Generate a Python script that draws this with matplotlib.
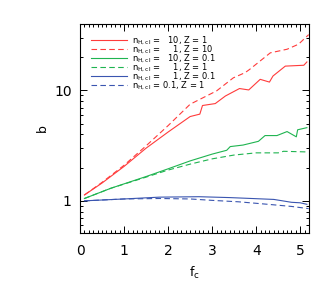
import matplotlib
matplotlib.use('Agg')
import matplotlib.pyplot as plt
from matplotlib.ticker import MultipleLocator, FixedLocator, NullFormatter

# red solid: n=10, Z=1
red_solid_x = [0.1, 0.5, 1.0, 1.5, 2.0, 2.5, 2.72, 2.78, 3.07, 3.3, 3.62, 3.83, 4.09, 4.3, 4.38, 4.66, 5.08, 5.15]
red_solid_y = [1.13, 1.45, 2.05, 3.0, 4.2, 5.8, 6.1, 7.3, 7.6, 8.9, 10.4, 10.1, 12.6, 11.9, 13.5, 16.6, 16.9, 18.1]

# red dashed: n=1, Z=10
red_dash_x = [0.1, 0.5, 1.0, 1.5, 2.0, 2.5, 3.1, 3.48, 3.75, 3.85, 4.32, 4.7, 4.96, 5.19]
red_dash_y = [1.13, 1.47, 2.1, 3.15, 4.8, 7.5, 9.9, 13.0, 14.5, 15.5, 21.9, 23.6, 26.2, 32.0]

# green solid: n=10, Z=0.1
green_solid_x = [0.1, 0.7, 1.5, 2.0, 2.5, 3.0, 3.33, 3.41, 3.7, 4.05, 4.2, 4.47, 4.7, 4.91, 4.94, 5.15]
green_solid_y = [1.05, 1.3, 1.66, 1.95, 2.3, 2.65, 2.87, 3.1, 3.2, 3.46, 3.9, 3.9, 4.24, 3.8, 4.4, 4.6]

# green dashed: n=1, Z=1
green_dash_x = [0.1, 0.7, 1.5, 2.0, 2.5, 3.0, 3.5, 4.0, 4.5, 4.62, 5.19]
green_dash_y = [1.05, 1.3, 1.64, 1.9, 2.15, 2.4, 2.6, 2.72, 2.72, 2.81, 2.77]

# blue solid: n=1, Z=0.1
blue_solid_x = [0.1, 1.0, 1.8, 2.7, 3.4, 3.9, 4.4, 4.8, 5.0, 5.15]
blue_solid_y = [1.0, 1.04, 1.08, 1.09, 1.07, 1.05, 1.03, 0.97, 0.96, 0.93]

# blue dashed: n=0.1, Z=1
blue_dash_x = [0.1, 1.0, 1.8, 2.5, 3.0, 3.6, 4.0, 4.4, 4.8, 5.19]
blue_dash_y = [1.0, 1.04, 1.05, 1.04, 1.01, 0.98, 0.95, 0.92, 0.89, 0.85]

labels = [
    r'$\mathrm{n}_{\rm H,cl}$ =   10, Z = 1',
    r'$\mathrm{n}_{\rm H,cl}$ =     1, Z = 10',
    r'$\mathrm{n}_{\rm H,cl}$ =   10, Z = 0.1',
    r'$\mathrm{n}_{\rm H,cl}$ =     1, Z = 1',
    r'$\mathrm{n}_{\rm H,cl}$ =     1, Z = 0.1',
    r'$\mathrm{n}_{\rm H,cl}$ = 0.1, Z = 1',
]

red = '#ff3b3b'
green = '#1fb450'
blue = '#3a55b0'

fig = plt.figure(figsize=(3.32, 2.85), dpi=100)
ax = fig.add_axes([0.241, 0.182, 0.69, 0.734])

lw = 0.8
ax.plot(red_solid_x, red_solid_y, color=red, lw=lw, label=labels[0])
ax.plot(red_dash_x, red_dash_y, color=red, lw=lw, ls=(0, (5, 3)), label=labels[1])
ax.plot(green_solid_x, green_solid_y, color=green, lw=lw, label=labels[2])
ax.plot(green_dash_x, green_dash_y, color=green, lw=lw, ls=(0, (5, 3)), label=labels[3])
ax.plot(blue_solid_x, blue_solid_y, color=blue, lw=lw, label=labels[4])
ax.plot(blue_dash_x, blue_dash_y, color=blue, lw=lw, ls=(0, (5, 3)), label=labels[5])

ax.set_yscale('log')
ax.set_xlim(0, 5.2)
ax.set_ylim(0.51, 40)

ax.xaxis.set_major_locator(MultipleLocator(1))
ax.xaxis.set_minor_locator(MultipleLocator(0.1))
ax.yaxis.set_major_locator(FixedLocator([1, 10]))
ax.yaxis.set_major_formatter(plt.FuncFormatter(lambda v, p: '%d' % v))
ax.yaxis.set_minor_locator(FixedLocator([0.6, 0.7, 0.8, 0.9, 2, 3, 4, 5, 6, 7, 8, 9, 20, 30, 40]))
ax.yaxis.set_minor_formatter(NullFormatter())

ax.tick_params(which='both', direction='in', top=True, right=True, labelsize=10, width=0.7)
ax.tick_params(which='major', length=5)
ax.tick_params(axis='x', which='major', pad=8)
ax.tick_params(axis='y', which='major', pad=6)
ax.tick_params(which='minor', length=2.5)
for s in ax.spines.values():
    s.set_linewidth(0.8)

ax.set_xlabel(r'f$_{\rm c}$', fontsize=9, labelpad=5)
ax.set_ylabel('b', fontsize=9, labelpad=4)

ax.legend(loc='upper left', frameon=False, fontsize=6, handlelength=4.3,
          handletextpad=0.6, labelspacing=-0.4, borderaxespad=0.9)

fig.savefig('out.png', dpi=100)
